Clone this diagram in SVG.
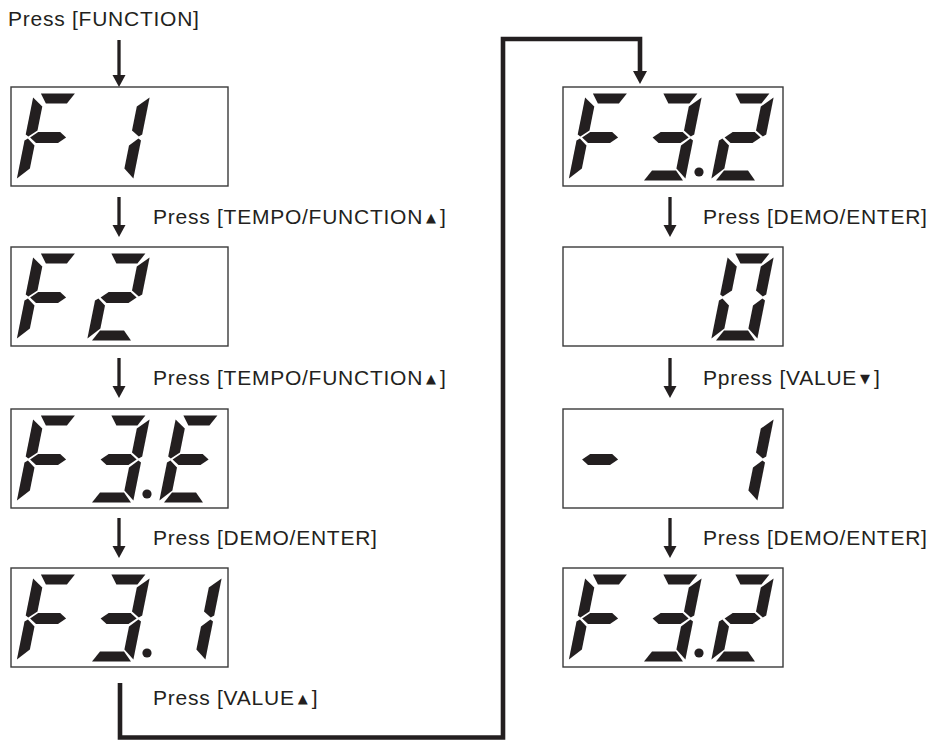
<svg xmlns="http://www.w3.org/2000/svg" xmlns:xlink="http://www.w3.org/1999/xlink" width="931" height="740" viewBox="0 0 931 740">
<style>
.box{fill:#fff;stroke:#3a3a3a;stroke-width:1.4}
.seg{fill:#231f20}
.lbl{font-family:"Liberation Sans",Arial,sans-serif;font-size:21px;letter-spacing:0.75px;fill:#231f20}
.tri{font-family:"DejaVu Sans",sans-serif;font-size:13px;letter-spacing:0}
.shaft{stroke:#231f20;stroke-width:3.3;fill:none}
.head{fill:#231f20}
.conn{stroke:#231f20;stroke-width:4.6;fill:none;stroke-linejoin:miter;stroke-linecap:butt}
</style>
<defs>
<polygon id="sA" class="seg" points="7,0 41,0 35,10 14,10"/>
<polygon id="sB" class="seg" points="46,4 35,13 35,37 43,43 46,41"/>
<polygon id="sC" class="seg" points="46,47 43,45 35,52 35,75 46,85"/>
<polygon id="sD" class="seg" points="5,87 44,87 35,77 11,77"/>
<polygon id="sE" class="seg" points="0,47 3,45 11,52 11,75 0,85"/>
<polygon id="sF" class="seg" points="0,4 11,13 11,37 3,43 0,41"/>
<polygon id="sG" class="seg" points="5,44 12,38.5 34,38.5 41,44 34,49.5 12,49.5"/>
<g id="dF"><use href="#sA"/><use href="#sF"/><use href="#sG"/><use href="#sE"/></g>
<g id="d1"><use href="#sB"/><use href="#sC"/></g>
<g id="d2"><use href="#sA"/><use href="#sB"/><use href="#sG"/><use href="#sE"/><use href="#sD"/></g>
<g id="d3"><use href="#sA"/><use href="#sB"/><use href="#sG"/><use href="#sC"/><use href="#sD"/></g>
<g id="dE"><use href="#sA"/><use href="#sF"/><use href="#sG"/><use href="#sE"/><use href="#sD"/></g>
<g id="d0"><use href="#sA"/><use href="#sB"/><use href="#sC"/><use href="#sD"/><use href="#sE"/><use href="#sF"/></g>
</defs>
<rect width="931" height="740" fill="#fff"/>

<g id="connectors">
<line class="shaft" x1="119" y1="40" x2="119" y2="76"/><polygon class="head" points="112.5,75 125.5,75 119,87"/>
<line class="shaft" x1="119" y1="197" x2="119" y2="226"/><polygon class="head" points="112.5,225 125.5,225 119,237"/>
<line class="shaft" x1="119" y1="358" x2="119" y2="387"/><polygon class="head" points="112.5,386 125.5,386 119,398"/>
<line class="shaft" x1="119" y1="518" x2="119" y2="547"/><polygon class="head" points="112.5,546 125.5,546 119,558"/>
<line class="shaft" x1="670" y1="197" x2="670" y2="226"/><polygon class="head" points="663.5,225 676.5,225 670,237"/>
<line class="shaft" x1="670" y1="358" x2="670" y2="387"/><polygon class="head" points="663.5,386 676.5,386 670,398"/>
<line class="shaft" x1="670" y1="518" x2="670" y2="547"/><polygon class="head" points="663.5,546 676.5,546 670,558"/>
<polyline class="conn" points="120,683 120,737.5 503,737.5 503,39 640,39 640,72"/>
<polygon class="head" points="633,71 647,71 640,84"/>
</g>

<g id="label-function"><text class="lbl" x="8" y="26">Press [FUNCTION]</text></g>

<g id="display-F1">
<rect class="box" x="11" y="87" width="217" height="99"/>
<g transform="translate(33.9,93.5) skewX(-11.31)"><use href="#dF"/></g>
<g transform="translate(104.4,93.5) skewX(-11.31)"><use href="#d1"/></g>
</g>
<g id="label-l1"><text class="lbl" x="153" y="224">Press [TEMPO/FUNCTION<tspan class="tri" dx="3" dy="-2">▲</tspan><tspan dx="4" dy="2">]</tspan></text></g>

<g id="display-F2">
<rect class="box" x="11" y="247" width="217" height="99"/>
<g transform="translate(33.9,253.5) skewX(-11.31)"><use href="#dF"/></g>
<g transform="translate(104.4,253.5) skewX(-11.31)"><use href="#d2"/></g>
</g>
<g id="label-l2"><text class="lbl" x="153" y="385">Press [TEMPO/FUNCTION<tspan class="tri" dx="3" dy="-2">▲</tspan><tspan dx="4" dy="2">]</tspan></text></g>

<g id="display-F3E">
<rect class="box" x="11" y="409" width="217" height="99"/>
<g transform="translate(33.9,415.5) skewX(-11.31)"><use href="#dF"/></g>
<g transform="translate(104.4,415.5) skewX(-11.31)"><use href="#d3"/></g>
<circle class="seg" cx="147" cy="494" r="4.6"/>
<g transform="translate(176.4,415.5) skewX(-11.31)"><use href="#dE"/></g>
</g>
<g id="label-l3"><text class="lbl" x="153" y="545">Press [DEMO/ENTER]</text></g>

<g id="display-F31">
<rect class="box" x="11" y="568" width="217" height="99"/>
<g transform="translate(33.9,574.5) skewX(-11.31)"><use href="#dF"/></g>
<g transform="translate(104.4,574.5) skewX(-11.31)"><use href="#d3"/></g>
<circle class="seg" cx="147" cy="653" r="4.6"/>
<g transform="translate(176.4,574.5) skewX(-11.31)"><use href="#d1"/></g>
</g>
<g id="label-l4"><text class="lbl" x="153" y="705">Press [VALUE<tspan class="tri" dx="3" dy="-2">▲</tspan><tspan dx="4" dy="2">]</tspan></text></g>

<g id="display-F32a">
<rect class="box" x="563" y="87" width="220" height="99"/>
<g transform="translate(585.9,93.5) skewX(-11.31)"><use href="#dF"/></g>
<g transform="translate(656.4,93.5) skewX(-11.31)"><use href="#d3"/></g>
<circle class="seg" cx="699" cy="172" r="4.6"/>
<g transform="translate(728.4,93.5) skewX(-11.31)"><use href="#d2"/></g>
</g>
<g id="label-r1"><text class="lbl" x="703" y="224">Press [DEMO/ENTER]</text></g>

<g id="display-0">
<rect class="box" x="563" y="247" width="220" height="99"/>
<g transform="translate(728.4,253.5) skewX(-11.31)"><use href="#d0"/></g>
</g>
<g id="label-r2"><text class="lbl" x="703" y="385">Ppress [VALUE<tspan class="tri" dx="3" dy="-2">▼</tspan><tspan dx="4" dy="2">]</tspan></text></g>

<g id="display-m1">
<rect class="box" x="563" y="409" width="220" height="99"/>
<g transform="translate(585.9,415.5) skewX(-11.31)"><use href="#sG"/></g>
<g transform="translate(728.4,415.5) skewX(-11.31)"><use href="#d1"/></g>
</g>
<g id="label-r3"><text class="lbl" x="703" y="545">Press [DEMO/ENTER]</text></g>

<g id="display-F32b">
<rect class="box" x="563" y="568" width="220" height="99"/>
<g transform="translate(585.9,574.5) skewX(-11.31)"><use href="#dF"/></g>
<g transform="translate(656.4,574.5) skewX(-11.31)"><use href="#d3"/></g>
<circle class="seg" cx="699" cy="653" r="4.6"/>
<g transform="translate(728.4,574.5) skewX(-11.31)"><use href="#d2"/></g>
</g>
</svg>
